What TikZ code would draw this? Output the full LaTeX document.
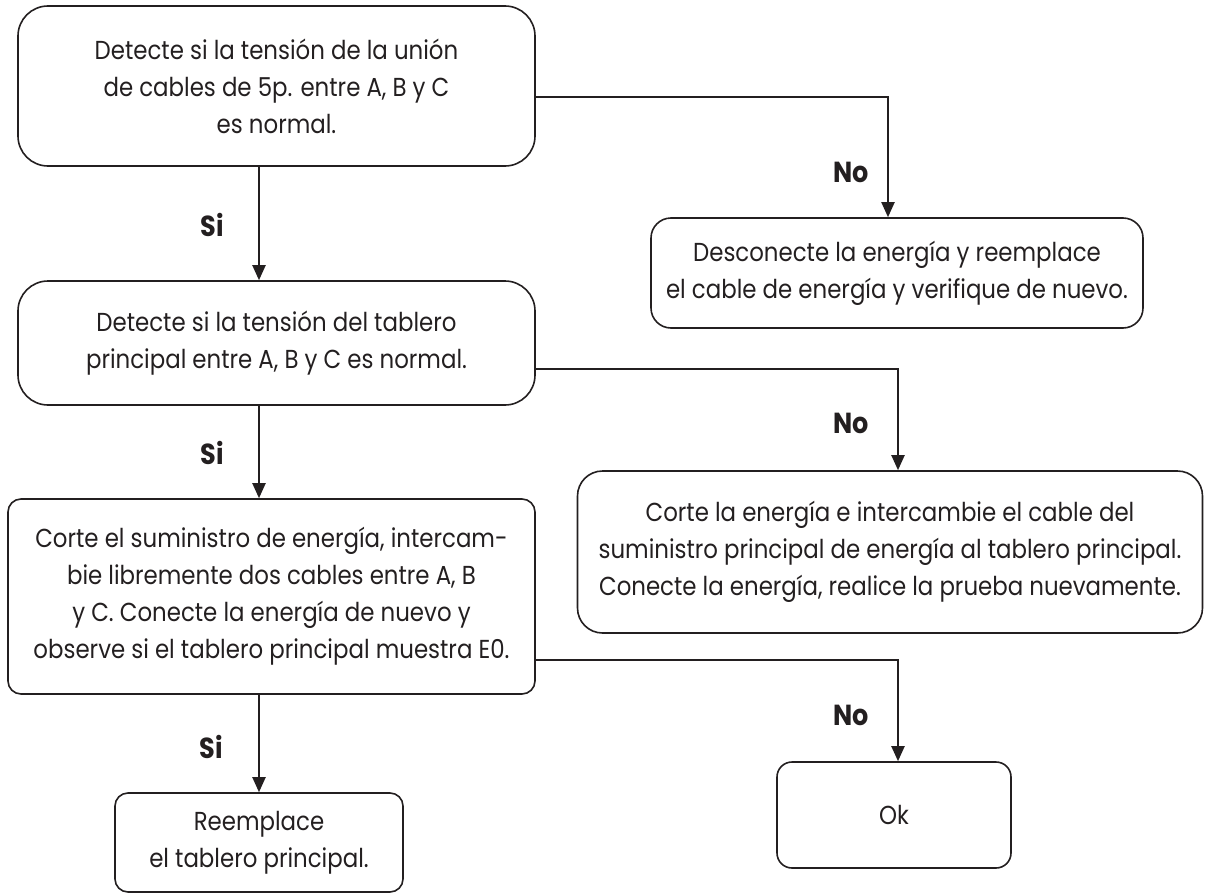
\documentclass[tikz,border=0pt]{standalone}
\usepackage{fontspec}
\setmainfont[FakeStretch=0.88]{Poppins}
\usetikzlibrary{arrows.meta,calc}
\definecolor{ink}{HTML}{231F20}
\tikzset{
  box/.style={draw=ink, line width=1.6pt, align=center, inner sep=0pt, text=ink,
    font=\fontsize{26}{37}\selectfont},
  conn/.style={draw=ink, line width=2pt, -{Triangle[length=15pt,width=13pt]}},
  lbl/.style={text=ink, font=\fontsize{29}{32}\selectfont\bfseries},
}
\begin{document}
\begin{tikzpicture}[x=1pt,y=-1pt]
\useasboundingbox (0,0) rectangle (1205,894);
\coordinate (colx) at (259,0);
\node[box, rounded corners=30pt, minimum width=517pt, minimum height=160pt] (b1) at (276.5,86)
  {Detecte si la tensión de la unión\\de cables de 5p. entre A, B y C\\es normal.};
\node[box, rounded corners=30pt, minimum width=517pt, minimum height=124pt] (b2) at (276.5,343)
  {Detecte si la tensión del tablero\\principal entre A, B y C es normal.};
\node[box, rounded corners=20pt, minimum width=492pt, minimum height=110pt] (b3) at (897,273)
  {Desconecte la energía y reemplace\\el cable de energía y verifique de nuevo.};
\node[box, rounded corners=13pt, minimum width=527pt, minimum height=195pt] (b4) at (271.5,596.5)
  {Corte el suministro de energía, intercam-\\bie libremente dos cables entre A, B\\y C. Conecte la energía de nuevo y\\observe si el tablero principal muestra E0.};
\node[box, rounded corners=25pt, minimum width=625pt, minimum height=162pt] (b5) at (890,552)
  {Corte la energía e intercambie el cable del\\suministro principal de energía al tablero principal.\\Conecte la energía, realice la prueba nuevamente.};
\node[box, rounded corners=13pt, minimum width=288pt, minimum height=99pt] (b6) at (259,842.5)
  {Reemplace\\el tablero principal.};
\node[box, rounded corners=15pt, minimum width=234pt, minimum height=106pt] (b7) at (894,815)
  {Ok};

\draw[conn] (b1.south -| colx) -- (b2.north -| colx);
\draw[conn] (b2.south -| colx) -- (b4.north -| colx);
\draw[conn] (b4.south -| colx) -- (b6.north -| colx);
\draw[conn] ([yshift=-11pt]b1.east) -| ([xshift=-9pt]b3.north);
\draw[conn] ([yshift=-26pt]b2.east) -| ([xshift=8pt]b5.north);
\draw[conn] ([yshift=-63.5pt]b4.east) -| ([xshift=4pt]b7.north);

\node[lbl] (s1) at (212,225) {Si};
\node[lbl] (s2) at (212,453) {Si};
\node[lbl] (s3) at (211,747) {Si};
\node[lbl] (n1) at (851,172) {No};
\node[lbl] (n2) at (851,423) {No};
\node[lbl] (n3) at (851,715) {No};
\end{tikzpicture}
\end{document}
